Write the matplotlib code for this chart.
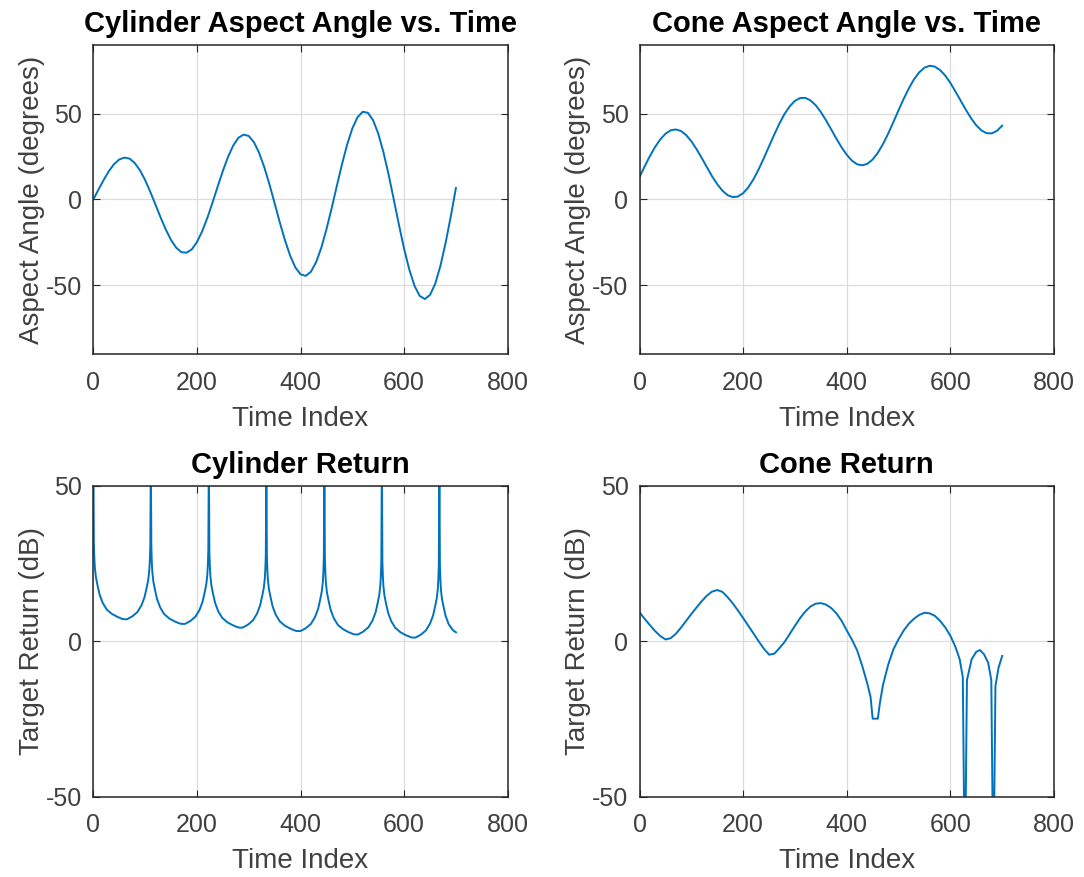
import numpy as np
import matplotlib
matplotlib.use('Agg')
import matplotlib.pyplot as plt

plt.rcParams['font.family'] = ['Liberation Sans', 'DejaVu Sans']
plt.rcParams['axes.unicode_minus'] = False

# ---- aspect angles, sampled every 10 time steps ----
time_idx = np.arange(0, 710, 10)

cyl_aspect = [
    0.0, 5.8, 11.4, 16.5, 20.6, 23.3, 24.4, 23.8, 21.2, 17.0,
    11.3, 4.4, -3.0, -10.6, -17.6, -23.6, -28.1, -30.7, -31.0, -29.1,
    -24.8, -18.6, -10.8, -1.9, 7.5, 16.6, 24.8, 31.4, 35.9, 37.8,
    37.0, 33.4, 27.2, 18.8, 8.8, -2.2, -13.4, -23.8, -32.8, -39.6,
    -43.6, -44.5, -42.1, -36.6, -28.2, -17.4, -5.2, 7.8, 20.5, 32.0,
    41.4, 47.9, 51.1, 50.5, 46.2, 38.4, 27.6, 14.5, 0.0, -14.8,
    -28.8, -40.9, -50.3, -56.2, -58.0, -55.6, -49.1, -38.7, -25.4, -9.9,
    6.7,
]

cone_aspect = [
    13.1, 19.4, 25.3, 30.6, 35.0, 38.3, 40.3, 40.8, 39.9, 37.5,
    33.9, 29.3, 24.2, 18.8, 13.5, 8.9, 5.1, 2.5, 1.4, 1.7,
    3.7, 7.1, 11.8, 17.6, 24.1, 31.0, 37.8, 44.2, 49.9, 54.3,
    57.5, 59.1, 59.2, 57.7, 54.9, 50.9, 46.1, 40.8, 35.4, 30.4,
    26.0, 22.6, 20.5, 19.9, 20.8, 23.3, 27.2, 32.3, 38.4, 45.1,
    52.0, 58.7, 64.8, 70.1, 74.1, 76.8, 77.9, 77.4, 75.4, 72.2,
    67.9, 62.8, 57.5, 52.2, 47.3, 43.2, 40.2, 38.6, 38.5, 40.0,
    43.0,
]

# ---- cylinder return (dB), denser near the broadside spikes ----
cyl_t = [
    0, 1, 2, 3, 5, 8, 12, 18, 26, 36, 46, 56, 60,
    65, 75, 85, 93, 99, 103, 106, 108, 109, 110, 111,
    112, 113, 114, 116, 119, 123, 129, 137, 147, 157, 167, 171,
    177, 187, 197, 205, 211, 215, 218, 220, 221, 222, 223,
    224, 225, 226, 228, 231, 235, 241, 249, 259, 269, 279, 283,
    288, 298, 308, 316, 322, 326, 329, 331, 332, 333, 334,
    335, 336, 337, 339, 342, 346, 352, 360, 370, 380, 390, 394,
    400, 410, 420, 428, 434, 438, 441, 443, 444, 445, 446,
    447, 448, 449, 451, 454, 458, 464, 472, 482, 492, 502, 506,
    511, 521, 531, 539, 545, 549, 552, 554, 555, 556, 557,
    558, 559, 560, 562, 565, 569, 575, 583, 593, 603, 613, 617,
    622, 632, 642, 650, 656, 660, 663, 665, 666, 667, 668,
    669, 670, 671, 673, 676, 680, 686, 694, 700,
]
cyl_db = [
    60.0, 31.6, 26.6, 23.6, 20.6, 18.1, 15.1, 12.4, 10.2, 8.8, 7.9, 7.2, 7.1,
    7.1, 8.0, 9.4, 11.6, 14.3, 17.3, 19.8, 22.8, 25.8, 30.8, 60.0,
    30.1, 25.1, 22.1, 19.1, 16.6, 13.6, 10.9, 8.7, 7.3, 6.4, 5.7, 5.6,
    5.6, 6.5, 7.9, 10.1, 12.8, 15.8, 18.3, 21.3, 24.3, 29.3, 60.0,
    28.9, 23.9, 20.9, 17.9, 15.4, 12.4, 9.7, 7.5, 6.1, 5.2, 4.5, 4.4,
    4.4, 5.3, 6.7, 8.9, 11.6, 14.6, 17.1, 20.1, 23.1, 28.1, 60.0,
    27.8, 22.8, 19.8, 16.8, 14.3, 11.3, 8.6, 6.4, 5.0, 4.1, 3.4, 3.3,
    3.3, 4.2, 5.6, 7.8, 10.5, 13.5, 16.0, 19.0, 22.0, 27.0, 60.0,
    26.7, 21.7, 18.7, 15.7, 13.2, 10.2, 7.5, 5.3, 3.9, 3.0, 2.3, 2.2,
    2.2, 3.1, 4.5, 6.7, 9.4, 12.4, 14.9, 17.9, 20.9, 25.9, 60.0,
    25.7, 20.7, 17.7, 14.7, 12.2, 9.2, 6.5, 4.3, 2.9, 2.0, 1.3, 1.2,
    1.2, 2.1, 3.5, 5.7, 8.4, 11.4, 13.9, 16.9, 19.9, 24.9, 60.0,
    24.7, 19.7, 16.7, 13.7, 11.2, 8.2, 5.5, 3.6, 2.9,
]

# ---- cone return (dB) ----
cone_t = [
    0, 10, 20, 30, 40, 50, 60, 70, 80, 90,
    100, 110, 120, 130, 140, 150, 160, 170, 180, 190,
    200, 210, 220, 230, 240, 250, 260, 270, 280, 290,
    300, 310, 320, 330, 340, 350, 360, 370, 380, 390,
    400, 410, 420, 430, 440, 446, 450, 460, 464, 470,
    480, 490, 500, 510, 520, 530, 540, 550, 560, 570,
    580, 590, 600, 610, 618, 624, 628, 632, 641, 650,
    657, 665, 673, 679, 683, 687, 693, 700,
]
cone_db = [
    9.3, 7.2, 5.2, 3.3, 1.7, 0.6, 1.0, 2.4, 4.4, 6.6,
    8.8, 10.9, 12.9, 14.7, 16.0, 16.5, 15.9, 14.2, 12.2, 9.9,
    7.5, 5.0, 2.5, 0.0, -2.4, -4.3, -4.0, -2.2, -0.2, 2.4,
    5.0, 7.5, 9.6, 11.2, 12.1, 12.3, 11.8, 10.7, 9.0, 6.6,
    3.5, 0.5, -2.9, -8.0, -13.8, -18.0, -24.9, -24.9, -19.8, -14.0,
    -7.5, -2.6, 0.7, 3.5, 5.7, 7.3, 8.5, 9.2, 9.0, 8.2,
    6.6, 4.5, 1.8, -1.9, -5.8, -11.5, -80.0, -12.5, -5.8, -3.4,
    -2.8, -4.2, -6.9, -12.5, -80.0, -14.4, -8.5, -4.7,
]

LINE_COLOR = '#0072BD'
AX_COLOR = '#262626'
TEXT_GRAY = '#404040'

fig = plt.figure(figsize=(10.84, 8.77), dpi=100)

# axes rectangles in figure fractions
positions = [
    [0.0861, 0.5964, 0.3823, 0.3523],
    [0.5900, 0.5964, 0.3823, 0.3523],
    [0.0861, 0.0916, 0.3823, 0.3543],
    [0.5900, 0.0916, 0.3823, 0.3543],
]

panels = [
    (time_idx, cyl_aspect, 'Cylinder Aspect Angle vs. Time', 'Aspect Angle (degrees)', (-90, 90)),
    (time_idx, cone_aspect, 'Cone Aspect Angle vs. Time', 'Aspect Angle (degrees)', (-90, 90)),
    (cyl_t, cyl_db, 'Cylinder Return', 'Target Return (dB)', (-50, 50)),
    (cone_t, cone_db, 'Cone Return', 'Target Return (dB)', (-50, 50)),
]

for pos, (x, y, title, ylabel, ylim) in zip(positions, panels):
    ax = fig.add_axes(pos)
    ax.plot(x, y, color=LINE_COLOR, linewidth=1.4)
    ax.set_xlim(0, 800)
    ax.set_ylim(*ylim)
    ax.set_xticks([0, 200, 400, 600, 800])
    ax.set_yticks([-50, 0, 50])
    ax.grid(True, color='#dcdcdc', linewidth=0.9)
    ax.set_axisbelow(True)
    ax.tick_params(direction='in', length=5, width=0.8, colors=AX_COLOR,
                   labelcolor=TEXT_GRAY, labelsize=18, top=True, right=True)
    ax.tick_params(axis='x', pad=12)
    ax.tick_params(axis='y', pad=8)
    for s in ax.spines.values():
        s.set_color(AX_COLOR)
        s.set_linewidth(1.1)
    ax.set_title(title, fontsize=21, fontweight='bold', pad=9)
    ax.set_xlabel('Time Index', fontsize=20, color=TEXT_GRAY, labelpad=8)
    ax.set_ylabel(ylabel, fontsize=20, color=TEXT_GRAY, labelpad=1)

plt.savefig('out.png', dpi=100)
plt.close()
